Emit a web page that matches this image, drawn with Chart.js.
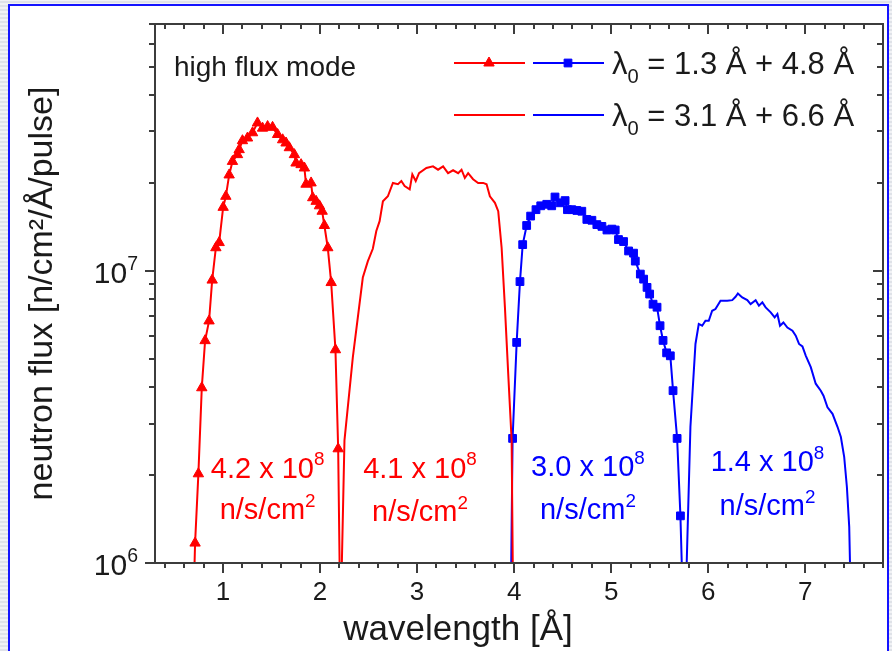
<!DOCTYPE html>
<html>
<head>
<meta charset="utf-8">
<script src="https://cdn.jsdelivr.net/npm/chart.js@4.4.1/dist/chart.umd.min.js"></script>
<style>
html, body { margin: 0; padding: 0; }
body {
  width: 892px; height: 651px; overflow: hidden; position: relative;
  background: repeating-linear-gradient(0deg, #dfe2e8 0px, #dfe2e8 2px, #f1f2f5 2px, #f1f2f5 4px);
}
#frame {
  position: absolute; left: 8px; top: 4px; width: 881px; height: 700px;
  box-sizing: border-box; border: 2px solid #1414ff; background: #fff;
}
#wrap { position: absolute; left: 0; top: 0; width: 892px; height: 651px; }
</style>
</head>
<body>
<div id="frame"></div>
<div id="wrap"><canvas id="fluxChart"></canvas></div>
<script>
// wavelength [Å] and neutron flux [n/cm²/Å/pulse]

// λ0 = 1.3 Å (red, triangles)
const lam13 = [0.69, 0.713, 0.747, 0.782, 0.816, 0.857, 0.889, 0.927, 0.961, 1.002, 1.030, 1.064, 1.098, 1.150, 1.167, 1.201, 1.253, 1.305, 1.356, 1.408, 1.460, 1.511, 1.563, 1.615, 1.650, 1.684, 1.736, 1.753, 1.805, 1.839, 1.856, 1.908, 1.925, 1.960, 1.994, 2.022, 2.045, 2.080, 2.115, 2.159, 2.187, 2.21];
const flux13 = [6e5, 1.17e6, 2.02e6, 3.98e6, 5.77e6, 6.74e6, 9.3e6, 1.20e7, 1.25e7, 1.65e7, 1.80e7, 2.13e7, 2.37e7, 2.50e7, 2.60e7, 2.79e7, 2.85e7, 2.97e7, 3.21e7, 3.08e7, 3.12e7, 3.10e7, 2.93e7, 2.81e7, 2.74e7, 2.64e7, 2.50e7, 2.34e7, 2.31e7, 2.25e7, 1.98e7, 2.00e7, 1.78e7, 1.73e7, 1.67e7, 1.60e7, 1.43e7, 1.20e7, 9.12e6, 5.37e6, 2.46e6, 6e5];

// λ0 = 3.1 Å (red, line only)
const lam31 = [2.215, 2.252, 2.338, 2.441, 2.493, 2.544, 2.580, 2.614, 2.648, 2.699, 2.751, 2.803, 2.838, 2.872, 2.924, 2.951, 2.986, 3.020, 3.096, 3.164, 3.216, 3.268, 3.319, 3.371, 3.423, 3.458, 3.492, 3.526, 3.577, 3.629, 3.681, 3.716, 3.750, 3.802, 3.836, 3.871, 3.905, 3.939, 3.974, 3.99];
const flux31 = [7e5, 2.63e6, 5.06e6, 9.49e6, 1.08e7, 1.19e7, 1.37e7, 1.48e7, 1.73e7, 1.80e7, 2.00e7, 1.98e7, 2.03e7, 1.95e7, 1.90e7, 2.14e7, 2.03e7, 2.16e7, 2.25e7, 2.28e7, 2.22e7, 2.28e7, 2.16e7, 2.21e7, 2.16e7, 2.22e7, 2.08e7, 2.16e7, 2.06e7, 2.00e7, 2.00e7, 1.98e7, 1.80e7, 1.71e7, 1.60e7, 1.20e7, 7.50e6, 4.44e6, 2.63e6, 7e5];

// λ0 = 4.8 Å (blue, squares)
const lam48 = [3.965, 3.984, 4.026, 4.060, 4.088, 4.129, 4.170, 4.225, 4.274, 4.336, 4.387, 4.421, 4.473, 4.525, 4.549, 4.594, 4.646, 4.697, 4.749, 4.801, 4.852, 4.904, 4.956, 5.007, 5.041, 5.075, 5.127, 5.179, 5.230, 5.248, 5.300, 5.334, 5.369, 5.396, 5.431, 5.472, 5.503, 5.534, 5.571, 5.609, 5.637, 5.679, 5.713, 5.74];
const flux48 = [7e5, 2.67e6, 5.69e6, 9.19e6, 1.23e7, 1.43e7, 1.54e7, 1.62e7, 1.67e7, 1.69e7, 1.67e7, 1.79e7, 1.71e7, 1.74e7, 1.62e7, 1.62e7, 1.61e7, 1.60e7, 1.50e7, 1.49e7, 1.44e7, 1.42e7, 1.38e7, 1.39e7, 1.38e7, 1.28e7, 1.26e7, 1.17e7, 1.15e7, 1.08e7, 9.75e6, 9.37e6, 8.78e6, 8.33e6, 7.69e6, 7.51e6, 6.49e6, 5.78e6, 5.24e6, 5.12e6, 3.89e6, 2.67e6, 1.45e6, 7e5];

// λ0 = 6.6 Å (blue, line only)
const lam66 = [5.765, 5.816, 5.868, 5.902, 5.937, 5.971, 6.005, 6.040, 6.074, 6.126, 6.195, 6.247, 6.281, 6.305, 6.350, 6.402, 6.436, 6.488, 6.522, 6.557, 6.591, 6.643, 6.684, 6.712, 6.739, 6.774, 6.815, 6.867, 6.901, 6.935, 6.970, 7.004, 7.056, 7.107, 7.159, 7.187, 7.228, 7.280, 7.332, 7.366, 7.400, 7.428, 7.452, 7.47];
const flux66 = [7e5, 2.92e6, 5.62e6, 6.58e6, 6.49e6, 6.75e6, 6.75e6, 7.30e6, 7.40e6, 7.90e6, 7.90e6, 7.94e6, 8.15e6, 8.37e6, 8.11e6, 7.94e6, 7.70e6, 7.94e6, 7.60e6, 7.80e6, 7.50e6, 7.21e6, 6.93e6, 7.12e6, 6.49e6, 6.66e6, 6.40e6, 6.24e6, 6.00e6, 5.62e6, 5.51e6, 5.13e6, 4.68e6, 4.11e6, 3.89e6, 3.74e6, 3.41e6, 3.24e6, 2.92e6, 2.70e6, 2.31e6, 1.82e6, 1.33e6, 7e5];

const xTicks = [1, 2, 3, 4, 5, 6, 7];
const yTicks = [1e6, 1e7];
const legendText = ['= 1.3 Å + 4.8 Å', '= 3.1 Å + 6.6 Å'];
const totalFlux = ['4.2', '4.1', '3.0', '1.4'];

// where the integrated-flux notes sit, in data units
const noteX = [1.46, 3.03, 4.76, 6.61];
const noteY = [1.96e6, 1.96e6, 1.98e6, 2.06e6];
const noteY2 = [1.41e6, 1.39e6, 1.41e6, 1.46e6];

const RED = '#ff0000';
const BLUE = '#0000ff';
const AXIS = '#3c3c3c';
const INK = '#1a1a1a';
const FONT = '"Liberation Sans", Arial, Helvetica, sans-serif';
const noteColor = [RED, RED, BLUE, BLUE];

function pts(xs, ys) {
  return xs.map((x, i) => ({x: x, y: ys[i]}));
}

// text with superscript / subscript pieces: [[text, ''|'sup'|'sub'], ...]
function richWidth(ctx, parts, size) {
  let w = 0;
  parts.forEach(p => {
    const s = p[1] ? size * 0.65 : size;
    ctx.font = s + 'px ' + FONT;
    w += ctx.measureText(p[0]).width;
  });
  return w;
}
function drawRich(ctx, parts, x, y, size, align, color) {
  const w = richWidth(ctx, parts, size);
  let cx = align === 'center' ? x - w / 2 : align === 'right' ? x - w : x;
  ctx.fillStyle = color;
  ctx.textAlign = 'left';
  ctx.textBaseline = 'alphabetic';
  parts.forEach(p => {
    const s = p[1] ? size * 0.65 : size;
    const dy = p[1] === 'sup' ? -size * 0.42 : p[1] === 'sub' ? size * 0.3 : 0;
    ctx.font = s + 'px ' + FONT;
    ctx.fillText(p[0], cx, y + dy);
    cx += ctx.measureText(p[0]).width;
  });
}

const originFrame = {
  id: 'originFrame',
  afterDatasetsDraw(chart) {
    const ctx = chart.ctx;
    const a = chart.chartArea;
    const xs = chart.scales.x;
    const ys = chart.scales.y;
    ctx.save();
    ctx.strokeStyle = AXIS;
    ctx.lineWidth = 2;
    ctx.lineCap = 'butt';
    ctx.strokeRect(a.left, a.top, a.right - a.left, a.bottom - a.top);
    ctx.beginPath();
    // x ticks every 0.2, major at integers
    for (let k = 2; k <= 39; k++) {
      const v = k / 5;
      const len = k % 5 === 0 ? 10 : 5;
      const px = Math.round(xs.getPixelForValue(v));
      ctx.moveTo(px, a.bottom); ctx.lineTo(px, a.bottom + len);
      ctx.moveTo(px, a.top); ctx.lineTo(px, a.top + len);
    }
    // y log ticks
    [6, 7].forEach(d => {
      for (let m = 1; m <= 9; m++) {
        const v = m * Math.pow(10, d);
        if (v < ys.min || v > ys.max) continue;
        const len = m === 1 ? 10 : 6;
        const py = Math.round(ys.getPixelForValue(v));
        ctx.moveTo(a.left - len, py); ctx.lineTo(a.left, py);
        ctx.moveTo(a.right - len, py); ctx.lineTo(a.right, py);
      }
    });
    ctx.stroke();

    // y tick labels 10^n
    yTicks.forEach(v => {
      const py = ys.getPixelForValue(v);
      drawRich(ctx, [['10', ''], [String(Math.round(Math.log10(v))), 'sup']], a.left - 17, py + 12, 30, 'right', INK);
    });

    // x axis title
    ctx.font = '35px ' + FONT;
    ctx.fillStyle = INK;
    ctx.textAlign = 'center';
    ctx.textBaseline = 'alphabetic';
    ctx.fillText('wavelength [Å]', 458, 640);

    // mode label
    ctx.font = '28px ' + FONT;
    ctx.textAlign = 'left';
    ctx.fillText('high flux mode', 174, 76);

    // legend
    const rowY = [63, 115];
    chart.data.datasets.forEach((ds, i) => {
      const row = i % 2 === 0 ? 0 : 1;
      const x0 = i < 2 ? 454 : 533;
      const y = rowY[row];
      ctx.strokeStyle = ds.borderColor;
      ctx.lineWidth = 2;
      ctx.beginPath();
      ctx.moveTo(x0, y); ctx.lineTo(x0 + 71, y);
      ctx.stroke();
      if (ds.pointRadius > 0) {
        ctx.fillStyle = ds.backgroundColor;
        ctx.lineWidth = 1;
        Chart.helpers.drawPoint(ctx, {pointStyle: ds.pointStyle, radius: ds.pointRadius, borderWidth: 1, rotation: 0}, x0 + 35, y);
      }
    });
    legendText.forEach((t, r) => {
      drawRich(ctx, [['λ', ''], ['0', 'sub'], [' ' + t, '']], 612, rowY[r] + 11, 31, 'left', INK);
    });

    // integrated flux notes
    totalFlux.forEach((t, i) => {
      const px = xs.getPixelForValue(noteX[i]);
      drawRich(ctx, [[t + ' x 10', ''], ['8', 'sup']], px, ys.getPixelForValue(noteY[i]), 29, 'center', noteColor[i]);
      drawRich(ctx, [['n/s/cm', ''], ['2', 'sup']], px, ys.getPixelForValue(noteY2[i]), 29, 'center', noteColor[i]);
    });
    ctx.restore();
  }
};

new Chart(document.getElementById('fluxChart'), {
  type: 'line',
  data: {
    datasets: [
      {label: 'λ0 = 1.3 Å', data: pts(lam13, flux13), borderColor: RED, backgroundColor: RED,
       borderWidth: 2, pointStyle: 'triangle', pointRadius: 6, pointBorderWidth: 1},
      {label: 'λ0 = 3.1 Å', data: pts(lam31, flux31), borderColor: RED, backgroundColor: RED,
       borderWidth: 2, pointRadius: 0},
      {label: 'λ0 = 4.8 Å', data: pts(lam48, flux48), borderColor: BLUE, backgroundColor: BLUE,
       borderWidth: 2, pointStyle: 'rect', pointRadius: 5.5, pointBorderWidth: 1},
      {label: 'λ0 = 6.6 Å', data: pts(lam66, flux66), borderColor: BLUE, backgroundColor: BLUE,
       borderWidth: 2, pointRadius: 0}
    ]
  },
  options: {
    responsive: true,
    maintainAspectRatio: false,
    animation: false,
    layout: {padding: {left: 0, top: 24, right: 9, bottom: 0}},
    plugins: {legend: {display: false}, tooltip: {enabled: false}},
    elements: {line: {tension: 0, fill: false}},
    scales: {
      x: {
        type: 'linear', min: 0.3, max: 7.8,
        grid: {display: false, drawTicks: false},
        border: {display: false},
        ticks: {color: INK, font: {family: FONT, size: 26}, padding: 14, autoSkip: false, maxRotation: 0},
        afterBuildTicks: s => { s.ticks = xTicks.map(v => ({value: v})); },
        afterFit: s => { s.height = 88; }
      },
      y: {
        type: 'logarithmic', min: 1e6, max: 7e7,
        grid: {display: false, drawTicks: false},
        border: {display: false},
        ticks: {display: false},
        afterBuildTicks: s => { s.ticks = yTicks.map(v => ({value: v})); },
        afterFit: s => { s.width = 155; },
        title: {display: true, text: 'neutron flux [n/cm²/Å/pulse]', color: INK,
                font: {family: FONT, size: 34}, padding: {top: 22, bottom: 0}}
      }
    }
  },
  plugins: [originFrame]
});
</script>
</body>
</html>
